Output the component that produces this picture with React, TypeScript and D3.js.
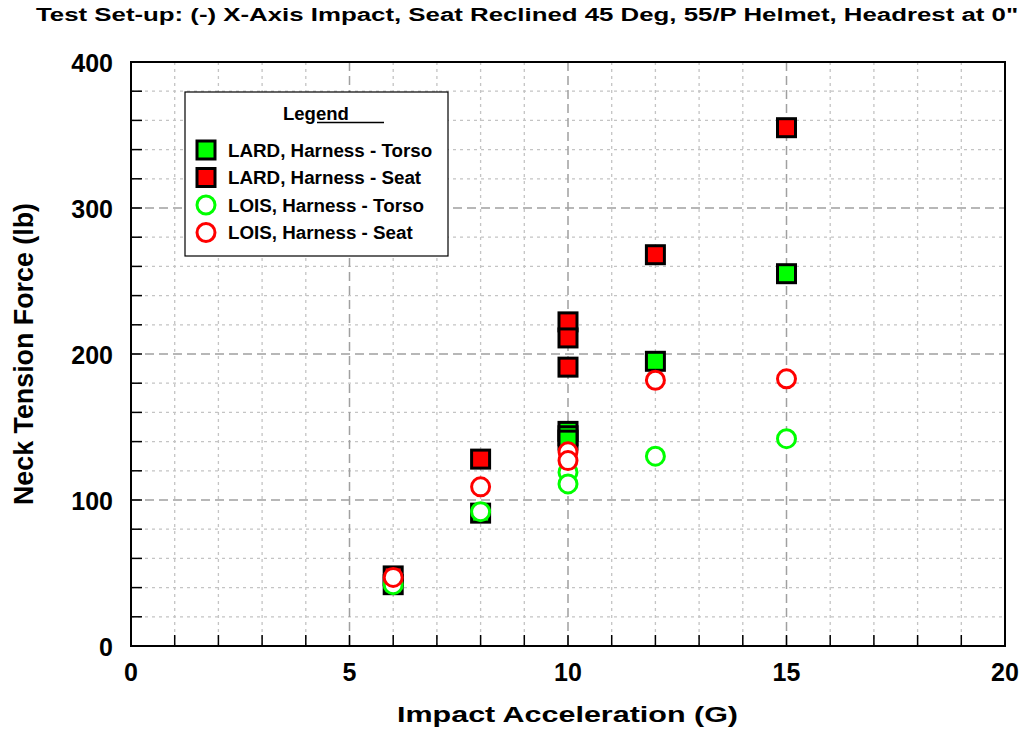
import React, { useLayoutEffect, useRef, useState } from "react";
import * as d3 from "d3";

const title = 'Test Set-up: (-) X-Axis Impact, Seat Reclined 45 Deg, 55/P Helmet, Headrest at 0"';
const xLabel = "Impact Acceleration  (G)";
const yLabel = "Neck Tension Force  (lb)";
const xTicks = [0, 5, 10, 15, 20];
const yTicks = [0, 100, 200, 300, 400];

const lardTorso: [number, number][] = [
  [6, 42], [8, 91], [10, 147], [10, 144], [10, 141], [12, 195], [15, 255],
];
const lardSeat: [number, number][] = [
  [6, 48], [8, 128], [10, 222], [10, 211], [10, 191], [12, 268], [15, 355],
];
const loisTorso: [number, number][] = [
  [6, 42], [8, 92], [10, 119], [10, 111], [12, 130], [15, 142],
];
const loisSeat: [number, number][] = [
  [6, 47], [8, 109], [10, 133], [10, 127], [12, 182], [15, 183],
];

const legendItems = [
  { label: "LARD, Harness - Torso", shape: "square", color: "#00ff00" },
  { label: "LARD, Harness - Seat", shape: "square", color: "#ff0000" },
  { label: "LOIS, Harness - Torso", shape: "circle", color: "#00ff00" },
  { label: "LOIS, Harness - Seat", shape: "circle", color: "#ff0000" },
];

export default function App() {
  const W = 1026, H = 736;
  const L = 131, R = 1005, T = 62, B = 646;
  const x = d3.scaleLinear().domain([0, 20]).range([L, R]);
  const y = d3.scaleLinear().domain([0, 400]).range([B, T]);
  const font = "'Liberation Sans', Arial, Helvetica, sans-serif";
  const minorX = d3.range(1, 20).filter((v) => v % 5 !== 0);
  const majorX = [5, 10, 15];
  const minorY = d3.range(20, 400, 20).filter((v) => v % 100 !== 0);
  const majorY = [100, 200, 300];
  const sq = 18;
  const r = 9;

  const titleRef = useRef<SVGTextElement>(null);
  const [titleScale, setTitleScale] = useState(1);
  const titleX0 = 36, titleX1 = 1018;
  useLayoutEffect(() => {
    if (titleRef.current) {
      const w = titleRef.current.getComputedTextLength();
      if (w > 0) setTitleScale((titleX1 - titleX0) / w);
    }
  }, []);

  const square = (p: [number, number], c: string, k: string) => (
    <rect key={k} x={x(p[0]) - sq / 2} y={y(p[1]) - sq / 2} width={sq} height={sq}
      fill={c} stroke="#000" strokeWidth={3} />
  );
  const circle = (p: [number, number], c: string, k: string) => (
    <circle key={k} cx={x(p[0])} cy={y(p[1])} r={r} fill="#fff" stroke={c} strokeWidth={3} />
  );

  return (
    <svg width={W} height={H} style={{ position: "absolute", left: 0, top: 0, background: "#fff" }}
      fontFamily={font}>
      <rect x={0} y={0} width={W} height={H} fill="#fff" />
      <text ref={titleRef} transform={`translate(${titleX0},21) scale(${titleScale},1)`} x={0} y={0}
        fontSize={18.7} fontWeight="bold">{title}</text>
      {/* grid */}
      {minorX.map((v) => (
        <line key={"gx" + v} x1={x(v)} x2={x(v)} y1={T} y2={B} stroke="#c4c4c4" strokeWidth={1.3} strokeDasharray="3,4" />
      ))}
      {minorY.map((v) => (
        <line key={"gy" + v} x1={L} x2={R} y1={y(v)} y2={y(v)} stroke="#c4c4c4" strokeWidth={1.3} strokeDasharray="3,4" />
      ))}
      {majorX.map((v) => (
        <line key={"mx" + v} x1={x(v)} x2={x(v)} y1={T} y2={B} stroke="#a0a0a0" strokeWidth={1.5} strokeDasharray="9,5" />
      ))}
      {majorY.map((v) => (
        <line key={"my" + v} x1={L} x2={R} y1={y(v)} y2={y(v)} stroke="#a0a0a0" strokeWidth={1.5} strokeDasharray="9,5" />
      ))}
      {/* ticks */}
      {d3.range(1, 20).map((v) => (
        <line key={"tx" + v} x1={x(v)} x2={x(v)} y1={B} y2={B - 11} stroke="#000" strokeWidth={1.5} />
      ))}
      {d3.range(20, 400, 20).map((v) => (
        <line key={"ty" + v} x1={L} x2={L + 11} y1={y(v)} y2={y(v)} stroke="#000" strokeWidth={1.5} />
      ))}
      <rect x={L} y={T} width={R - L} height={B - T} fill="none" stroke="#000" strokeWidth={2} />
      {/* tick labels */}
      {xTicks.map((v) => (
        <text key={"xl" + v} x={x(v)} y={681} textAnchor="middle" fontSize={25} fontWeight="bold">{v}</text>
      ))}
      {yTicks.map((v) => (
        <text key={"yl" + v} x={113} y={y(v) + 9.5} textAnchor="end" fontSize={25} fontWeight="bold">{v}</text>
      ))}
      <text x={397} y={722} fontSize={22} fontWeight="bold" textLength={341} lengthAdjust="spacingAndGlyphs">{xLabel}</text>
      <text transform={`translate(33,354) rotate(-90)`} textAnchor="middle" fontSize={27} fontWeight="bold"
        textLength={302} lengthAdjust="spacingAndGlyphs">{yLabel}</text>
      {/* data */}
      {lardTorso.map((p, i) => square(p, "#00ff00", "lt" + i))}
      {lardSeat.map((p, i) => square(p, "#ff0000", "ls" + i))}
      {loisTorso.map((p, i) => circle(p, "#00ff00", "ot" + i))}
      {loisSeat.map((p, i) => circle(p, "#ff0000", "os" + i))}
      {/* legend */}
      <rect x={185} y={92} width={263} height={164} fill="#fff" stroke="#000" strokeWidth={1.2} />
      <text x={283} y={120} fontSize={18.5} fontWeight="bold">Legend</text>
      <line x1={317} x2={384} y1={122.5} y2={122.5} stroke="#000" strokeWidth={1.5} />
      {legendItems.map((it, i) => {
        const cy = 150 + i * 27.5;
        return (
          <g key={"lg" + i}>
            {it.shape === "square" ? (
              <rect x={206 - 9} y={cy - 9} width={18} height={18} fill={it.color} stroke="#000" strokeWidth={3} />
            ) : (
              <circle cx={206} cy={cy} r={9} fill="#fff" stroke={it.color} strokeWidth={3} />
            )}
            <text x={228} y={cy + 6.7} fontSize={18.8} fontWeight="bold">{it.label}</text>
          </g>
        );
      })}
    </svg>
  );
}
